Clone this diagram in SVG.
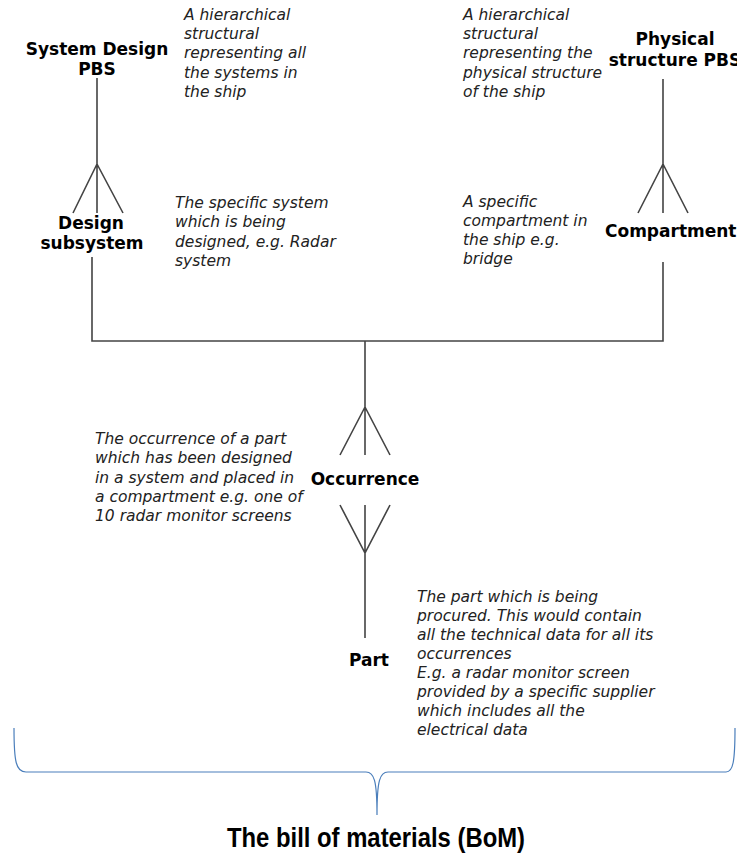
<svg xmlns="http://www.w3.org/2000/svg" width="737" height="854" viewBox="0 0 737 854">
<style>
.lbl{font-family:"DejaVu Sans","Verdana",sans-serif;font-weight:bold;font-size:17px;fill:#000}
.desc{font-family:"DejaVu Sans","Verdana",sans-serif;font-style:italic;font-size:15.5px;fill:#222}
.ln{stroke:#444;stroke-width:1.6;fill:none}
.brace{stroke:#4a7ebb;stroke-width:1.2;fill:none}
.title{font-family:"Liberation Sans",Arial,sans-serif;font-weight:bold;font-size:27px;fill:#000}
</style>
<rect width="737" height="854" fill="#fff"/>
<g id="connectors">
<path class="ln" d="M97,78 V213 M97,164 L73,213 M97,164 L123,213"/>
<path class="ln" d="M663,79 V213 M663,164 L638,213 M663,164 L688,213"/>
<path class="ln" d="M92,257 V341 H663 V262"/>
<path class="ln" d="M365,341 V455 M365,407 L340,455 M365,407 L390,455"/>
<path class="ln" d="M365,505 V638 M340,505 L365,553 L390,505"/>
</g>
<g id="system-design-pbs">
<text class="lbl" x="97" y="55" text-anchor="middle">System Design</text>
<text class="lbl" x="97" y="75" text-anchor="middle">PBS</text>
<text class="desc" x="184" y="20">A hierarchical</text>
<text class="desc" x="184" y="39">structural</text>
<text class="desc" x="184" y="58">representing all</text>
<text class="desc" x="184" y="78">the systems in</text>
<text class="desc" x="184" y="97">the ship</text>
</g>
<g id="physical-structure-pbs">
<text class="lbl" x="675" y="45" text-anchor="middle">Physical</text>
<text class="lbl" x="675" y="66" text-anchor="middle">structure PBS</text>
<text class="desc" x="463" y="20">A hierarchical</text>
<text class="desc" x="463" y="39">structural</text>
<text class="desc" x="463" y="58">representing the</text>
<text class="desc" x="463" y="78">physical structure</text>
<text class="desc" x="463" y="97">of the ship</text>
</g>
<g id="design-subsystem">
<text class="lbl" x="91" y="229" text-anchor="middle">Design</text>
<text class="lbl" x="92" y="249" text-anchor="middle">subsystem</text>
<text class="desc" x="175" y="208">The specific system</text>
<text class="desc" x="175" y="227">which is being</text>
<text class="desc" x="175" y="247">designed, e.g. Radar</text>
<text class="desc" x="175" y="266">system</text>
</g>
<g id="compartment">
<text class="lbl" x="605" y="237">Compartment</text>
<text class="desc" x="463" y="207">A specific</text>
<text class="desc" x="463" y="226">compartment in</text>
<text class="desc" x="463" y="245">the ship e.g.</text>
<text class="desc" x="463" y="264">bridge</text>
</g>
<g id="occurrence">
<text class="lbl" x="365" y="485" text-anchor="middle">Occurrence</text>
<text class="desc" x="95" y="444">The occurrence of a part</text>
<text class="desc" x="95" y="463">which has been designed</text>
<text class="desc" x="95" y="483">in a system and placed in</text>
<text class="desc" x="95" y="502">a compartment e.g. one of</text>
<text class="desc" x="95" y="521">10 radar monitor screens</text>
</g>
<g id="part">
<text class="lbl" x="369" y="666" text-anchor="middle">Part</text>
<text class="desc" x="417" y="602">The part which is being</text>
<text class="desc" x="417" y="621">procured. This would contain</text>
<text class="desc" x="417" y="640">all the technical data for all its</text>
<text class="desc" x="417" y="659">occurrences</text>
<text class="desc" x="417" y="678">E.g. a radar monitor screen</text>
<text class="desc" x="417" y="697">provided by a specific supplier</text>
<text class="desc" x="417" y="716">which includes all the</text>
<text class="desc" x="417" y="735">electrical data</text>
</g>
<g id="bom">
<path class="brace" d="M14,728 C14,762 16,772 26,772 L366,772 C374,772 377,780 377,815 C377,780 380,772 388,772 L726,772 C733,772 735,762 735,728"/>
<text class="title" x="376" y="847" text-anchor="middle" textLength="298" lengthAdjust="spacingAndGlyphs">The bill of materials (BoM)</text>
</g>
</svg>
